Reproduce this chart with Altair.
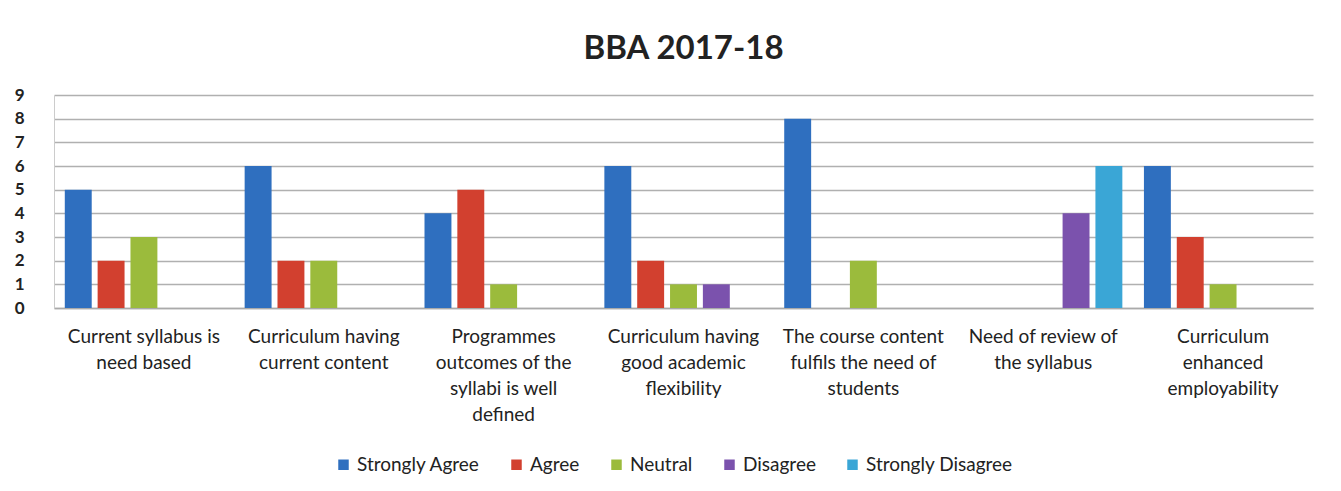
import altair as alt
import pandas as pd

categories = [
    "Current syllabus is need based",
    "Curriculum having current content",
    "Programmes outcomes of the syllabi is well defined",
    "Curriculum having good academic flexibility",
    "The course content fulfils the need of students",
    "Need of review of the syllabus",
    "Curriculum enhanced employability",
]
label_lines = [
    ["Current syllabus is", "need based"],
    ["Curriculum having", "current content"],
    ["Programmes", "outcomes of the", "syllabi is well", "defined"],
    ["Curriculum having", "good academic", "flexibility"],
    ["The course content", "fulfils the need of", "students"],
    ["Need of review of", "the syllabus"],
    ["Curriculum", "enhanced", "employability"],
]
series = ["Strongly Agree", "Agree", "Neutral", "Disagree", "Strongly Disagree"]
strongly_agree = [5, 6, 4, 6, 8, 0, 6]
agree = [2, 2, 5, 2, 0, 0, 3]
neutral = [3, 2, 1, 1, 2, 0, 1]
disagree = [0, 0, 0, 1, 0, 4, 0]
strongly_disagree = [0, 0, 0, 0, 0, 6, 0]
y_ticks = [0, 1, 2, 3, 4, 5, 6, 7, 8, 9]
colors = ["#2f6fbf", "#d2402f", "#9bbb3c", "#7b52ad", "#3aa6d6"]

values = [strongly_agree, agree, neutral, disagree, strongly_disagree]
rows = []
for s, vals in zip(series, values):
    for c, v in zip(categories, vals):
        rows.append({"Category": c, "Series": s, "Value": v})
df = pd.DataFrame(rows)

mapping = "{" + ",".join(
    '"%s": [%s]' % (c, ",".join('"%s"' % l for l in lines))
    for c, lines in zip(categories, label_lines)
) + "}"
label_expr = mapping + "[datum.label]"

font = "Lato"

chart = (
    alt.Chart(df)
    .transform_filter("datum.Value > 0")
    .mark_bar()
    .encode(
        x=alt.X(
            "Category:N",
            sort=categories,
            scale=alt.Scale(paddingInner=0.12, paddingOuter=0.06),
            axis=alt.Axis(
                title=None,
                labelAngle=0,
                labelExpr=label_expr,
                labelFontSize=19,
                labelFont=font,
                labelColor="#222",
                labelPadding=19,
                labelLineHeight=26,
                labelBaseline="top",
                ticks=False,
                domainColor="#aaa",
                domainWidth=1.5,
                labelLimit=300,
            ),
        ),
        xOffset=alt.XOffset(
            "Series:N",
            sort=series,
            scale=alt.Scale(domain=series, paddingInner=0.18),
        ),
        y=alt.Y(
            "Value:Q",
            scale=alt.Scale(domain=[0, 9], nice=False),
            axis=alt.Axis(
                title=None,
                values=y_ticks,
                labelOverlap=False,
                labelFontSize=17,
                labelFont=font,
                labelFontWeight="bold",
                labelColor="#222",
                labelPadding=30,
                ticks=False,
                domainColor="#ccc",
                gridColor="#b0b0b0",
                gridWidth=1.5,
            ),
        ),
        color=alt.Color(
            "Series:N",
            sort=series,
            scale=alt.Scale(domain=series, range=colors),
            legend=alt.Legend(
                title=None,
                orient="none",
                legendX=280,
                legendY=360,
                direction="horizontal",
                symbolType="square",
                symbolSize=110,
                labelFontSize=19,
                labelFont=font,
                labelColor="#222",
                columnPadding=27,
            ),
        ),
    )
    .properties(
        width=1259,
        height=213,
        title=alt.TitleParams(
            "BBA 2017-18",
            fontSize=33,
            font=font,
            fontWeight="bold",
            color="#222",
            anchor="middle",
            offset=20,
        ),
        padding={"left": 6, "top": 25, "right": 20, "bottom": 5},
    )
    .configure_view(stroke=None)
)

chart.save("out.html", embed_options={"renderer": "svg", "actions": False})
